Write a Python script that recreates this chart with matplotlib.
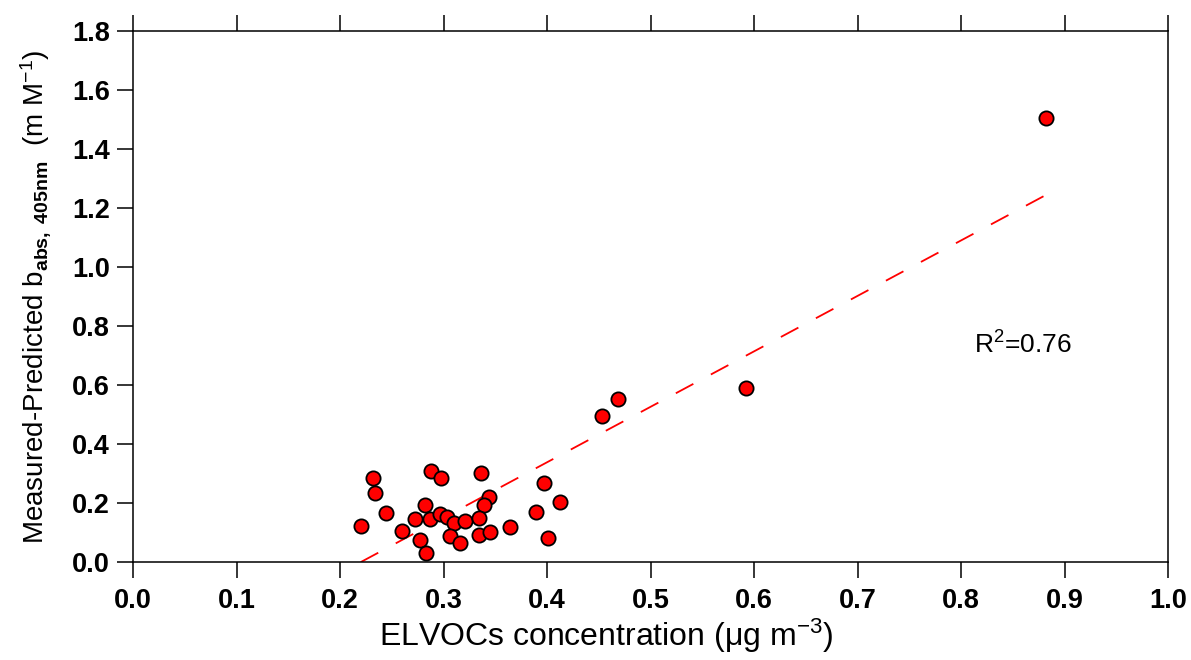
import numpy as np
import matplotlib
matplotlib.use('Agg')
import matplotlib.pyplot as plt

plt.rcParams['font.family'] = ['Liberation Sans', 'DejaVu Sans']
plt.rcParams['mathtext.fontset'] = 'custom'
plt.rcParams['mathtext.rm'] = 'Liberation Sans'
plt.rcParams['mathtext.it'] = 'Liberation Sans:italic'
plt.rcParams['mathtext.bf'] = 'Liberation Sans:bold'

# ELVOCs concentration (ug m-3) and measured-predicted b_abs
elvocs = [0.220, 0.232, 0.234, 0.244, 0.260, 0.272, 0.277, 0.283, 0.282, 0.287,
          0.288, 0.298, 0.297, 0.303, 0.310, 0.306, 0.316, 0.321, 0.336, 0.344,
          0.339, 0.334, 0.334, 0.345, 0.364, 0.389, 0.397, 0.413, 0.401, 0.453,
          0.469, 0.592, 0.882]
babs_diff = [0.121, 0.286, 0.235, 0.165, 0.106, 0.146, 0.076, 0.030, 0.192, 0.147,
             0.308, 0.284, 0.162, 0.154, 0.133, 0.088, 0.065, 0.139, 0.302, 0.221,
             0.193, 0.150, 0.090, 0.103, 0.119, 0.168, 0.269, 0.204, 0.080, 0.496,
             0.551, 0.590, 1.505]

# linear fit
fit_slope = 1.88
fit_intercept = -0.414
r2_text = r'R$^2$=0.76'

fig = plt.figure(figsize=(11.91, 6.6), dpi=100)
ax = fig.add_axes([0.1117, 0.1485, 0.9807 - 0.1117, 0.953 - 0.1485])

xfit = np.array([min(elvocs), max(elvocs)])
ax.plot(xfit, fit_slope * xfit + fit_intercept, color='#ff0000', lw=1.3,
        dashes=(11, 11), zorder=2)
ax.scatter(elvocs, babs_diff, s=105, facecolor='#ff0000', edgecolor='black',
           linewidths=1.3, zorder=3)

ax.set_xlim(0, 1.0)
ax.set_ylim(0, 1.8)
ax.set_xticks(np.arange(0, 1.01, 0.1))
ax.set_yticks(np.arange(0, 1.81, 0.2))
ax.set_xticklabels([f'{v:.1f}' for v in np.arange(0, 1.01, 0.1)])
ax.set_yticklabels([f'{v:.1f}' for v in np.arange(0, 1.81, 0.2)])
ax.tick_params(direction='out', length=11.5, width=1.1, top=True, right=False,
               labelsize=19.5)
ax.tick_params(axis='x', pad=7)
ax.tick_params(axis='y', pad=5)
for lab in ax.get_xticklabels() + ax.get_yticklabels():
    lab.set_fontweight('bold')
for sp in ax.spines.values():
    sp.set_linewidth(1.1)

ax.set_xlabel(r'ELVOCs concentration ($\mathrm{\mu}$g m$^{-3}$)', fontsize=23, va='center')
ax.xaxis.set_label_coords(0.457, -0.139)
ax.set_ylabel(r'Measured-Predicted b$_{\mathbf{abs,\ 405nm}}$  (m M$^{-1}$)', fontsize=20,
              va='center')
ax.yaxis.set_label_coords(-0.094, 0.5)
ax.text(0.813, 0.735, r2_text, fontsize=19, va='center', ha='left')

fig.savefig('out.png', dpi=100)
